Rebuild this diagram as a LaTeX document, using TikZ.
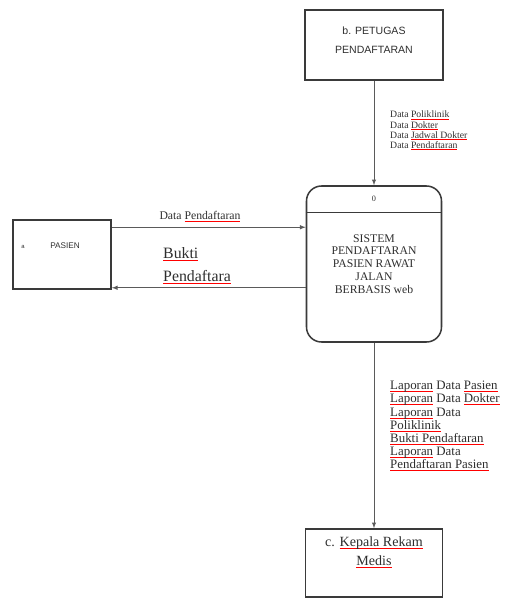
\documentclass[tikz,border=0pt]{standalone}
\usepackage{fontspec}
\setmainfont{Liberation Serif}
\setsansfont{Liberation Sans}
\usepackage{tikz}
\usetikzlibrary{arrows,calc}
\definecolor{tepi}{HTML}{3A3A3A}
\definecolor{garis}{HTML}{5A5A5A}
\definecolor{tulisan}{HTML}{2E2E2E}
\newlength{\panjang}
\newcommand{\salah}[1]{\settowidth{\panjang}{#1}\rlap{\textcolor{red}{\rule[-0.35ex]{\panjang}{0.45pt}}}#1}

\begin{document}
\begin{tikzpicture}[
  kotak/.style={draw=tepi, line width=1.3pt, minimum width=4.14cm, minimum height=2.1cm, align=center, text=tulisan},
  proses/.style={draw=tepi, line width=1.3pt, rounded corners=0.45cm, minimum width=4.05cm, minimum height=4.68cm, align=center, text=tulisan, font=\fontsize{10}{11}\selectfont},
  panah/.style={draw=garis, line width=0.7pt, -latex},
  ket/.style={align=left, inner sep=0pt, anchor=north west, text=tulisan}
]
\useasboundingbox (0,0) rectangle (15.21,-17.94);

% entitas dan proses
\node[kotak] (petugas) at (11.22,-1.35) {};
\node[text=tulisan, align=center, font=\sffamily\fontsize{9}{16}\selectfont] (namaB) at ([yshift=0.14cm]petugas.center) {b. PETUGAS\\PENDAFTARAN};
\node[proses] (sistem) at (11.22,-7.92) {SISTEM\\PENDAFTARAN\\PASIEN RAWAT\\JALAN\\BERBASIS web};
\node[kotak, minimum width=2.94cm, minimum height=2.07cm] (pasien) at (1.86,-7.635) {};
\node[text=tulisan, font=\sffamily\fontsize{5}{6}\selectfont] (kodeA) at (0.69,-7.41) {a};
\node[text=tulisan, font=\sffamily\fontsize{7}{8}\selectfont] (namaA) at (1.95,-7.38) {PASIEN};
\node[kotak, minimum width=4.11cm, minimum height=2.04cm] (kepala) at (11.22,-16.89) {};
\node[text=tulisan, align=center, font=\fontsize{12}{16}\selectfont] (namaC) at ([yshift=0.33cm]kepala.center) {c. \salah{Kepala Rekam}\\\salah{Medis}};

% kepala proses
\draw[draw=tepi, line width=0.8pt] ([yshift=-0.81cm]sistem.north west) -- ([yshift=-0.81cm]sistem.north east);
\node[text=tulisan, font=\fontsize{7}{8}\selectfont] (nomor) at ([yshift=-0.42cm]sistem.north) {0};

% aliran data
\draw[panah] (petugas) -- (sistem);
\draw[panah] (sistem) -- (kepala);
\draw[panah] ([yshift=-0.24cm]pasien.north east) -- ([yshift=-0.24cm]pasien.north east -| sistem.west);
\draw[panah] ([yshift=0.06cm]pasien.south east -| sistem.west) -- ([yshift=0.06cm]pasien.south east);

% keterangan aliran
\node[ket, font=\fontsize{8.3}{8.6}\selectfont] (dataAtas) at (11.7,-3.33) {Data \salah{Poliklinik}\\Data \salah{Dokter}\\Data \salah{Jadwal Dokter}\\Data \salah{Pendaftaran}};
\node[text=tulisan, font=\fontsize{10}{11}\selectfont] (dataDaftar) at (6.0,-6.48) {Data \salah{Pendaftaran}};
\node[ket, font=\fontsize{13.5}{19.5}\selectfont] (bukti) at (4.89,-7.41) {\salah{Bukti}\\\salah{Pendaftara}};
\node[ket, font=\fontsize{11}{11.2}\selectfont] (laporan) at (11.7,-11.43) {\salah{Laporan} Data \salah{Pasien}\\\salah{Laporan} Data \salah{Dokter}\\\salah{Laporan} Data\\\salah{Poliklinik}\\\salah{Bukti Pendaftaran}\\\salah{Laporan} Data\\\salah{Pendaftaran Pasien}};
\end{tikzpicture}
\end{document}
